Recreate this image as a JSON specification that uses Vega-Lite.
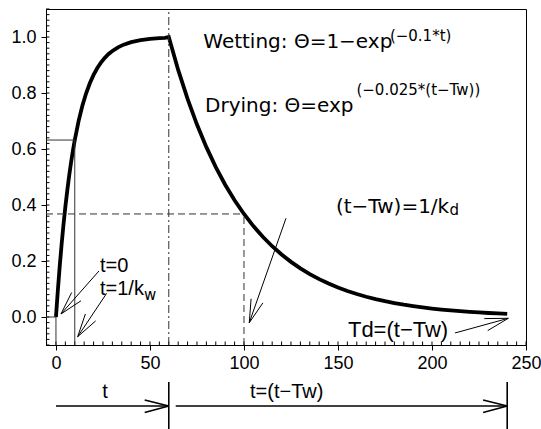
{
  "$schema": "https://vega.github.io/schema/vega-lite/v6.json",
  "autosize": {"type": "none"},
  "padding": {"left": 46, "top": 9, "right": 15, "bottom": 84},
  "width": 480,
  "height": 336,
  "background": "white",
  "config": {"view": {"stroke": "black", "strokeWidth": 1}},
  "datasets": {
    "curve": [
      {"x": 0, "y": 0}, {"x": 1, "y": 0.0952}, {"x": 2, "y": 0.1813}, {"x": 3, "y": 0.2592}, {"x": 4, "y": 0.3297},
      {"x": 5, "y": 0.3935}, {"x": 6, "y": 0.4512}, {"x": 7, "y": 0.5034}, {"x": 8, "y": 0.5507}, {"x": 9, "y": 0.5934},
      {"x": 10, "y": 0.6321}, {"x": 12, "y": 0.6988}, {"x": 14, "y": 0.7534}, {"x": 16, "y": 0.7981}, {"x": 18, "y": 0.8347},
      {"x": 20, "y": 0.8647}, {"x": 22, "y": 0.8892}, {"x": 24, "y": 0.9093}, {"x": 26, "y": 0.9257}, {"x": 28, "y": 0.9392},
      {"x": 30, "y": 0.9502}, {"x": 33, "y": 0.9631}, {"x": 36, "y": 0.9727}, {"x": 40, "y": 0.9817}, {"x": 45, "y": 0.9889},
      {"x": 50, "y": 0.9933}, {"x": 55, "y": 0.9959}, {"x": 58, "y": 0.997}, {"x": 60, "y": 1.0},
      {"x": 65, "y": 0.8825}, {"x": 70, "y": 0.7788}, {"x": 75, "y": 0.6873}, {"x": 80, "y": 0.6065}, {"x": 85, "y": 0.5353},
      {"x": 90, "y": 0.4724}, {"x": 95, "y": 0.4169}, {"x": 100, "y": 0.3679}, {"x": 105, "y": 0.3247}, {"x": 110, "y": 0.2865},
      {"x": 115, "y": 0.2528}, {"x": 120, "y": 0.2231}, {"x": 125, "y": 0.1969}, {"x": 130, "y": 0.1738}, {"x": 135, "y": 0.1534},
      {"x": 140, "y": 0.1353}, {"x": 145, "y": 0.1194}, {"x": 150, "y": 0.1054}, {"x": 155, "y": 0.093}, {"x": 160, "y": 0.0821},
      {"x": 165, "y": 0.0724}, {"x": 170, "y": 0.0639}, {"x": 175, "y": 0.0564}, {"x": 180, "y": 0.0498}, {"x": 185, "y": 0.0439},
      {"x": 190, "y": 0.0388}, {"x": 195, "y": 0.0342}, {"x": 200, "y": 0.0302}, {"x": 205, "y": 0.0266}, {"x": 210, "y": 0.0235},
      {"x": 215, "y": 0.0208}, {"x": 220, "y": 0.0183}, {"x": 225, "y": 0.0162}, {"x": 230, "y": 0.0143}, {"x": 235, "y": 0.0126},
      {"x": 240, "y": 0.0111}
    ],
    "xminor": [
      {"x": -5}, {"x": 0}, {"x": 5}, {"x": 10}, {"x": 15}, {"x": 20}, {"x": 25}, {"x": 30}, {"x": 35}, {"x": 40}, {"x": 45}, {"x": 50},
      {"x": 55}, {"x": 60}, {"x": 65}, {"x": 70}, {"x": 75}, {"x": 80}, {"x": 85}, {"x": 90}, {"x": 95}, {"x": 100},
      {"x": 105}, {"x": 110}, {"x": 115}, {"x": 120}, {"x": 125}, {"x": 130}, {"x": 135}, {"x": 140}, {"x": 145}, {"x": 150},
      {"x": 155}, {"x": 160}, {"x": 165}, {"x": 170}, {"x": 175}, {"x": 180}, {"x": 185}, {"x": 190}, {"x": 195}, {"x": 200},
      {"x": 205}, {"x": 210}, {"x": 215}, {"x": 220}, {"x": 225}, {"x": 230}, {"x": 235}, {"x": 240}, {"x": 245}, {"x": 250}
    ],
    "yminor": [
      {"y": -0.1}, {"y": -0.08}, {"y": -0.06}, {"y": -0.04}, {"y": -0.02}, {"y": 0}, {"y": 0.02}, {"y": 0.04}, {"y": 0.06}, {"y": 0.08},
      {"y": 0.1}, {"y": 0.12}, {"y": 0.14}, {"y": 0.16}, {"y": 0.18}, {"y": 0.2}, {"y": 0.22}, {"y": 0.24}, {"y": 0.26}, {"y": 0.28},
      {"y": 0.3}, {"y": 0.32}, {"y": 0.34}, {"y": 0.36}, {"y": 0.38}, {"y": 0.4}, {"y": 0.42}, {"y": 0.44}, {"y": 0.46}, {"y": 0.48},
      {"y": 0.5}, {"y": 0.52}, {"y": 0.54}, {"y": 0.56}, {"y": 0.58}, {"y": 0.6}, {"y": 0.62}, {"y": 0.64}, {"y": 0.66}, {"y": 0.68},
      {"y": 0.7}, {"y": 0.72}, {"y": 0.74}, {"y": 0.76}, {"y": 0.78}, {"y": 0.8}, {"y": 0.82}, {"y": 0.84}, {"y": 0.86}, {"y": 0.88},
      {"y": 0.9}, {"y": 0.92}, {"y": 0.94}, {"y": 0.96}, {"y": 0.98}, {"y": 1.0}, {"y": 1.02}, {"y": 1.04}, {"y": 1.06}, {"y": 1.08}, {"y": 1.1}
    ],
    "guides": [
      {"x": -5.3, "y": 0, "x2": 0, "y2": 0, "kind": "solid"},
      {"x": 0, "y": -0.1, "x2": 0, "y2": 0, "kind": "solid"},
      {"x": -5.3, "y": 0.632, "x2": 10, "y2": 0.632, "kind": "solid"},
      {"x": 10, "y": -0.1, "x2": 10, "y2": 0.632, "kind": "solid"},
      {"x": 60, "y": -0.1, "x2": 60, "y2": 1.1, "kind": "dashdot"},
      {"x": -5.3, "y": 0.368, "x2": 100, "y2": 0.368, "kind": "dashed"},
      {"x": 100, "y": -0.1, "x2": 100, "y2": 0.368, "kind": "dashed"}
    ],
    "arrows": [
      {"x": 22.87, "y": 0.1643, "x2": 2.66, "y2": 0.0107},
      {"x": 2.66, "y": 0.0107, "x2": 8.35, "y2": 0.0875},
      {"x": 2.66, "y": 0.0107, "x2": 13.3, "y2": 0.0579},
      {"x": 26.97, "y": 0.0846, "x2": 11.54, "y2": -0.0704},
      {"x": 11.54, "y": -0.0704, "x2": 15.64, "y2": 0.0107},
      {"x": 11.54, "y": -0.0704, "x2": 21.12, "y2": -0.0139},
      {"x": 122.34, "y": 0.3525, "x2": 102.82, "y2": -0.0204},
      {"x": 102.82, "y": -0.0204, "x2": 103.78, "y2": 0.065},
      {"x": 102.82, "y": -0.0204, "x2": 110.05, "y2": 0.0504},
      {"x": 212.23, "y": -0.0571, "x2": 240.59, "y2": -0.0046},
      {"x": 240.59, "y": -0.0046, "x2": 229.63, "y2": -0.0486},
      {"x": 240.59, "y": -0.0046, "x2": 227.82, "y2": -0.0057}
    ],
    "spans": [
      {"x": 0, "y": -0.318, "x2": 60, "y2": -0.318},
      {"x": 60, "y": -0.318, "x2": 47.2, "y2": -0.2964},
      {"x": 60, "y": -0.318, "x2": 47.2, "y2": -0.3411},
      {"x": 60, "y": -0.232, "x2": 60, "y2": -0.4},
      {"x": 63.7, "y": -0.318, "x2": 240, "y2": -0.318},
      {"x": 240, "y": -0.318, "x2": 227.2, "y2": -0.2964},
      {"x": 240, "y": -0.318, "x2": 227.2, "y2": -0.3411},
      {"x": 240, "y": -0.232, "x2": 240, "y2": -0.4}
    ],
    "labels": [
      {"x": 23.4, "y": 0.1596, "text": "t=0"},
      {"x": 23.4, "y": 0.0786, "text": "t=1/k"},
      {"x": 24.6, "y": -0.29, "text": "t"},
      {"x": 103.2, "y": -0.29, "text": "t=(t−Tw)"}
    ],
    "td": [
      {"x": 155.3, "y": -0.0725, "text": "Td=(t−Tw)"}
    ],
    "formula": [
      {"x": 78.35, "y": 0.9596, "text": "Wetting: Θ=1−exp"},
      {"x": 79.3, "y": 0.7332, "text": "Drying: Θ=exp"},
      {"x": 148.9, "y": 0.3725, "text": "(t−Tw)=1/k"}
    ],
    "small": [
      {"x": 177.6, "y": 0.9857, "text": "(−0.1*t)"},
      {"x": 159.8, "y": 0.793, "text": "(−0.025*(t−Tw))"},
      {"x": 209.3, "y": 0.3643, "text": "d"},
      {"x": 46.8, "y": 0.0607, "text": "w"}
    ]
  },
  "layer": [
    {
      "data": {"name": "curve"},
      "mark": {"type": "line", "color": "black", "strokeWidth": 3.8, "clip": false},
      "encoding": {
        "x": {"field": "x", "type": "quantitative", "scale": {"domain": [-5.3, 250], "nice": false, "zero": false},
          "axis": {"orient": "bottom", "values": [0, 50, 100, 150, 200, 250], "tickSize": 5, "tickColor": "black", "domainColor": "black",
            "labelFont": "Liberation Sans", "labelFontSize": 18, "labelColor": "black", "labelPadding": 4, "labelFlush": false, "grid": false, "title": null}},
        "y": {"field": "y", "type": "quantitative", "scale": {"domain": [-0.1, 1.1], "nice": false, "zero": false},
          "axis": {"orient": "left", "values": [0, 0.2, 0.4, 0.6, 0.8, 1.0], "format": ".1f", "tickSize": 5, "tickColor": "black", "domainColor": "black",
            "labelFont": "Liberation Sans", "labelFontSize": 18, "labelColor": "black", "labelPadding": 5, "labelFlush": false, "grid": false, "title": null}}
      }
    },
    {
      "data": {"name": "xminor"},
      "mark": {"type": "rule", "color": "black", "strokeWidth": 1, "clip": false},
      "encoding": {
        "x": {"field": "x", "type": "quantitative"},
        "y": {"datum": -0.1, "type": "quantitative"},
        "y2": {"datum": -0.0875}
      }
    },
    {
      "data": {"name": "yminor"},
      "mark": {"type": "rule", "color": "black", "strokeWidth": 1, "clip": false},
      "encoding": {
        "y": {"field": "y", "type": "quantitative"},
        "x": {"datum": -5.3, "type": "quantitative"},
        "x2": {"datum": -3.45}
      }
    },
    {
      "data": {"name": "guides"},
      "mark": {"type": "rule", "color": "#333333", "strokeWidth": 1, "clip": false},
      "encoding": {
        "x": {"field": "x", "type": "quantitative"},
        "x2": {"field": "x2"},
        "y": {"field": "y", "type": "quantitative"},
        "y2": {"field": "y2"},
        "strokeDash": {"field": "kind", "type": "nominal", "legend": null,
          "scale": {"domain": ["solid", "dashdot", "dashed"], "range": [[1, 0], [8, 3, 2, 3], [7, 4]]}}
      }
    },
    {
      "data": {"name": "arrows"},
      "mark": {"type": "rule", "color": "black", "strokeWidth": 1, "clip": false},
      "encoding": {
        "x": {"field": "x", "type": "quantitative"},
        "x2": {"field": "x2"},
        "y": {"field": "y", "type": "quantitative"},
        "y2": {"field": "y2"}
      }
    },
    {
      "data": {"name": "spans"},
      "mark": {"type": "rule", "color": "black", "strokeWidth": 1.6, "clip": false},
      "encoding": {
        "x": {"field": "x", "type": "quantitative"},
        "x2": {"field": "x2"},
        "y": {"field": "y", "type": "quantitative"},
        "y2": {"field": "y2"}
      }
    },
    {
      "data": {"name": "labels"},
      "mark": {"type": "text", "font": "Liberation Sans", "fontSize": 20, "color": "black", "align": "left", "baseline": "alphabetic", "clip": false},
      "encoding": {
        "x": {"field": "x", "type": "quantitative"},
        "y": {"field": "y", "type": "quantitative"},
        "text": {"field": "text"}
      }
    },
    {
      "data": {"name": "td"},
      "mark": {"type": "text", "font": "Liberation Sans", "fontSize": 22, "color": "black", "align": "left", "baseline": "alphabetic", "clip": false},
      "encoding": {
        "x": {"field": "x", "type": "quantitative"},
        "y": {"field": "y", "type": "quantitative"},
        "text": {"field": "text"}
      }
    },
    {
      "data": {"name": "formula"},
      "mark": {"type": "text", "font": "DejaVu Sans", "fontSize": 20, "color": "black", "align": "left", "baseline": "alphabetic", "clip": false},
      "encoding": {
        "x": {"field": "x", "type": "quantitative"},
        "y": {"field": "y", "type": "quantitative"},
        "text": {"field": "text"}
      }
    },
    {
      "data": {"name": "small"},
      "mark": {"type": "text", "font": "DejaVu Sans", "fontSize": 15, "color": "black", "align": "left", "baseline": "alphabetic", "clip": false},
      "encoding": {
        "x": {"field": "x", "type": "quantitative"},
        "y": {"field": "y", "type": "quantitative"},
        "text": {"field": "text"}
      }
    }
  ]
}
